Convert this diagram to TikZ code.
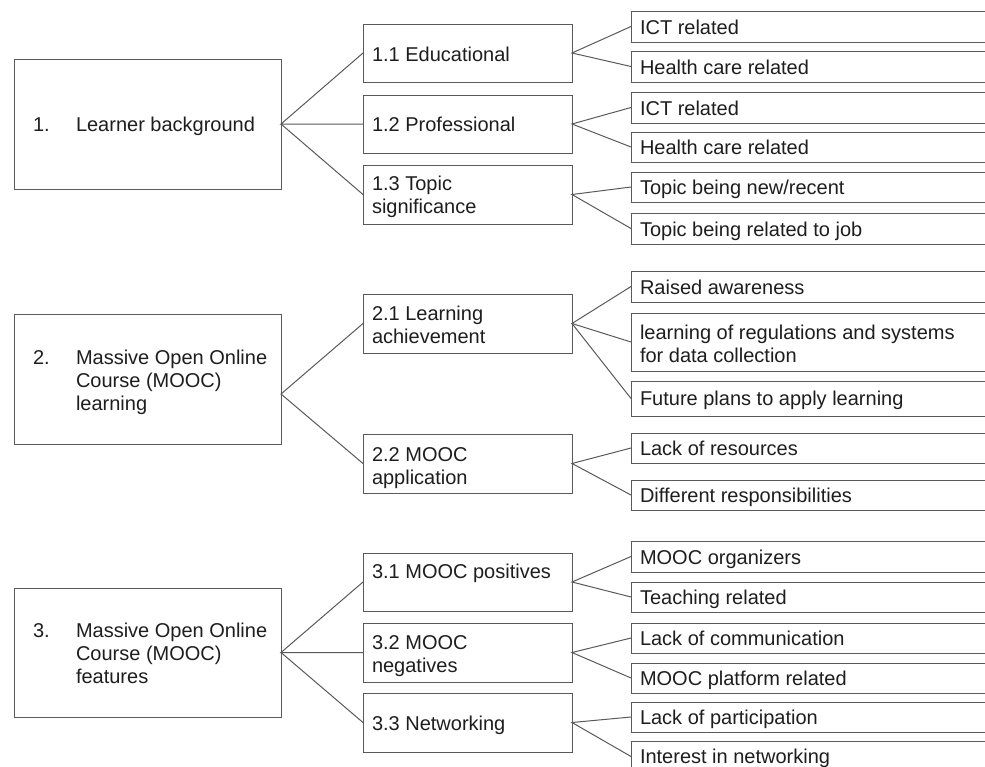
\documentclass[tikz,border=0pt]{standalone}
\usepackage{fontspec}
\setmainfont{Liberation Sans}
\definecolor{linec}{HTML}{5A5A5A}
\definecolor{textc}{HTML}{1E1E1E}
\newcommand\mlines[1]{\begin{tabular}[t]{@{}l@{}}#1\end{tabular}}
\newcommand\bx[5]{\node[boxst, minimum width={(#4-#2)*1pt}, minimum height={(#5-#3)*1pt}] (#1) at ({(#2+#4)/2},{(#3+#5)/2}) {};}
\newcommand\tx[4]{\node[txtst] (#1) at (#2,#3) {\mlines{#4}};}
\begin{document}
\begin{tikzpicture}[x=1pt,y=-1pt,
  boxst/.style={draw=linec, line width=1pt, rectangle, inner sep=0pt, outer sep=0pt},
  txtst/.style={anchor=base west, inner sep=0pt, outer sep=0pt, text=textc, font=\fontsize{20}{23}\selectfont},
  conn/.style={draw=linec, line width=1pt}]
\useasboundingbox (0,0) rectangle (985,766);
\clip (0,0) rectangle (985,766);
\fill[white] (0,0) rectangle (985,766);
% top level
\bx{b1}{14}{59}{281}{189}
\bx{b2}{14}{314}{281}{444}
\bx{b3}{14}{588}{281}{717}
% middle level
\bx{m11}{363}{24}{572}{82}
\bx{m12}{363}{95}{572}{153}
\bx{m13}{363}{165}{572}{224}
\bx{m21}{363}{294}{572}{353}
\bx{m22}{363}{434}{572}{493}
\bx{m31}{363}{553}{572}{611}
\bx{m32}{363}{623}{572}{682}
\bx{m33}{363}{693}{572}{752}
% leaves
\bx{l111}{631}{11}{1000}{42}
\bx{l112}{631}{51}{1000}{82}
\bx{l121}{631}{92}{1000}{123}
\bx{l122}{631}{132}{1000}{162}
\bx{l131}{631}{172}{1000}{202}
\bx{l132}{631}{213}{1000}{244}
\bx{l211}{631}{271}{1000}{302}
\bx{l212}{631}{313}{1000}{371}
\bx{l213}{631}{381}{1000}{416}
\bx{l221}{631}{433}{1000}{463}
\bx{l222}{631}{480}{1000}{510}
\bx{l311}{631}{541}{1000}{572}
\bx{l312}{631}{582}{1000}{612}
\bx{l321}{631}{623}{1000}{653}
\bx{l322}{631}{663}{1000}{693}
\bx{l331}{631}{702}{1000}{732}
\bx{l332}{631}{741}{1000}{772}
% texts
\tx{t1n}{33}{131}{1.}
\tx{t1}{76}{131}{Learner background}
\tx{t2n}{33}{364}{2.}
\tx{t2}{76}{364}{Massive Open Online\\Course (MOOC)\\learning}
\tx{t3n}{33}{637}{3.}
\tx{t3}{76}{637}{Massive Open Online\\Course (MOOC)\\features}
\tx{tm11}{372}{61}{1.1 Educational}
\tx{tm12}{372}{131}{1.2 Professional}
\tx{tm13}{372}{190}{1.3 Topic\\significance}
\tx{tm21}{372}{320}{2.1 Learning\\achievement}
\tx{tm22}{372}{461}{2.2 MOOC\\application}
\tx{tm31}{372}{578}{3.1 MOOC positives}
\tx{tm32}{372}{649}{3.2 MOOC\\negatives}
\tx{tm33}{372}{730}{3.3 Networking}
\tx{tl111}{640}{34}{ICT related}
\tx{tl112}{640}{74}{Health care related}
\tx{tl121}{640}{115}{ICT related}
\tx{tl122}{640}{154.5}{Health care related}
\tx{tl131}{640}{194.5}{Topic being new/recent}
\tx{tl132}{640}{236}{Topic being related to job}
\tx{tl211}{640}{294}{Raised awareness}
\tx{tl212}{640}{339}{learning of regulations and systems\\for data collection}
\tx{tl213}{640}{405}{Future plans to apply learning}
\tx{tl221}{640}{455.5}{Lack of resources}
\tx{tl222}{640}{502.5}{Different responsibilities}
\tx{tl311}{640}{564}{MOOC organizers}
\tx{tl312}{640}{604.5}{Teaching related}
\tx{tl321}{640}{645.5}{Lack of communication}
\tx{tl322}{640}{685.5}{MOOC platform related}
\tx{tl331}{640}{724.5}{Lack of participation}
\tx{tl332}{640}{763}{Interest in networking}
% connectors
\coordinate (b2c) at ([yshift=-15pt]b2.east);
\draw[conn] (m11.west) -- (b1.east) -- (m12.west);
\draw[conn] (b1.east) -- (m13.west);
\draw[conn] (m21.west) -- (b2c) -- (m22.west);
\draw[conn] (m31.west) -- (b3.east) -- (m32.west);
\draw[conn] (b3.east) -- (m33.west);
\draw[conn] (l111.west) -- (m11.east) -- (l112.west);
\draw[conn] (l121.west) -- (m12.east) -- (l122.west);
\draw[conn] (l131.west) -- (m13.east) -- (l132.west);
\draw[conn] (l211.west) -- (m21.east) -- (l212.west);
\draw[conn] (m21.east) -- (l213.west);
\draw[conn] (l221.west) -- (m22.east) -- (l222.west);
\draw[conn] (l311.west) -- (m31.east) -- (l312.west);
\draw[conn] (l321.west) -- (m32.east) -- (l322.west);
\draw[conn] (l331.west) -- (m33.east) -- (l332.west);
\end{tikzpicture}
\end{document}
